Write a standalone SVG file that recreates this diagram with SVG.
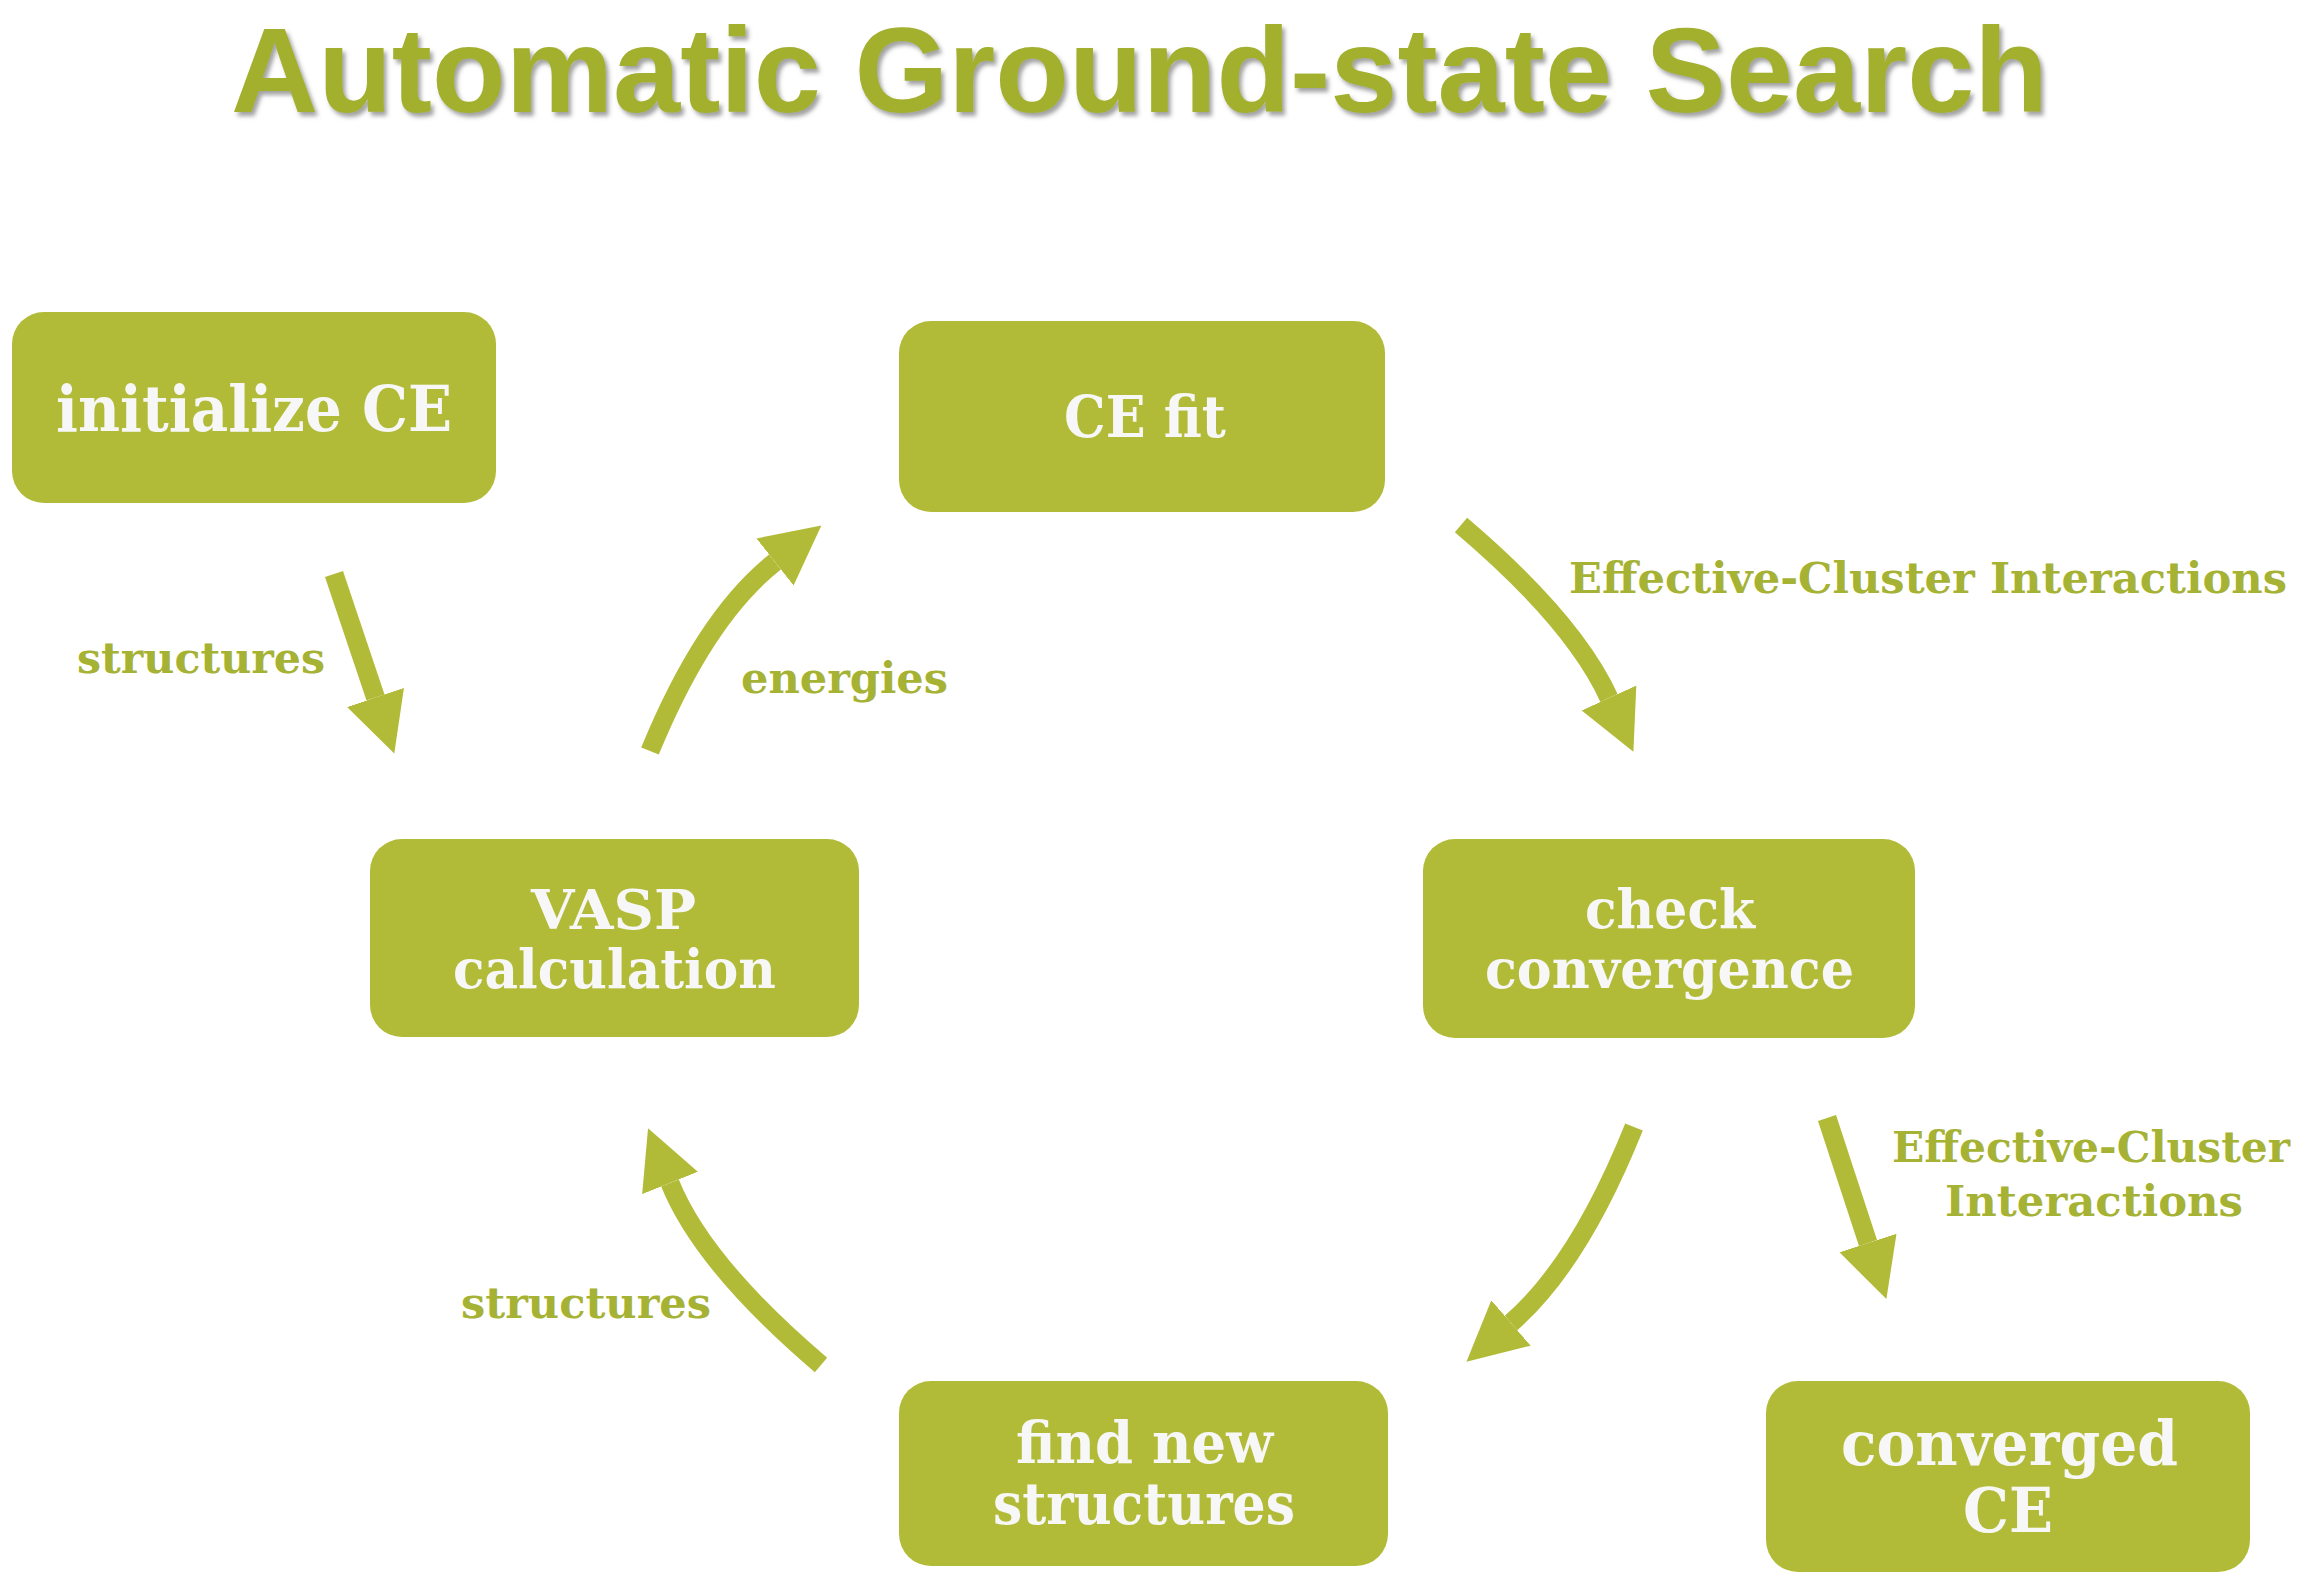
<svg xmlns="http://www.w3.org/2000/svg" width="2310" height="1596" viewBox="0 0 2310 1596">
  <defs>
    <style>
      .box { fill: #b2bb38; }
      .bt { font-family: "DejaVu Serif", "Liberation Serif", serif; font-weight: bold; fill: #f7f7f7; }
      .lbl { font-family: "DejaVu Serif", "Liberation Serif", serif; font-weight: bold; fill: #a6b234; font-size: 43px; }
      .shaft { fill: none; stroke: #b2bb38; stroke-width: 19; stroke-linecap: butt; }
      .title { font-family: "Liberation Sans", Arial, sans-serif; font-weight: bold; font-size: 120px; fill: #a3b02f; }
    </style>
    <filter id="shadow" x="-5%" y="-20%" width="110%" height="150%">
      <feDropShadow dx="3" dy="4" stdDeviation="2" flood-color="#555" flood-opacity="0.55"/>
    </filter>
    <marker id="head" markerUnits="userSpaceOnUse" viewBox="0 -31 62 62" refX="0" refY="0" markerWidth="62" markerHeight="62" orient="auto">
      <path d="M0,-30 L59,0 L0,30 Z" fill="#b2bb38"/>
    </marker>
  </defs>
  <rect width="2310" height="1596" fill="#ffffff"/>

  <text class="title" x="231" y="112" textLength="1817" lengthAdjust="spacingAndGlyphs" filter="url(#shadow)">Automatic Ground-state Search</text>

  <g id="connectors">
    <path class="shaft" d="M334,574 L375.5,697.5" marker-end="url(#head)"/>
    <path class="shaft" d="M650,751 C687,661 728,599 775,562" marker-end="url(#head)"/>
    <path class="shaft" d="M1461,525 Q1574,621 1609,698" marker-end="url(#head)"/>
    <path class="shaft" d="M1634,1127 Q1579,1264 1511,1323" marker-end="url(#head)"/>
    <path class="shaft" d="M821,1365 Q702.5,1264 670,1183" marker-end="url(#head)"/>
    <path class="shaft" d="M1827,1118 L1868,1243" marker-end="url(#head)"/>
    <text class="lbl" x="77" y="673" textLength="248" lengthAdjust="spacingAndGlyphs">structures</text>
    <text class="lbl" x="741" y="693" textLength="207" lengthAdjust="spacingAndGlyphs">energies</text>
    <text class="lbl" x="1569" y="593" textLength="718" lengthAdjust="spacingAndGlyphs">Effective-Cluster Interactions</text>
    <text class="lbl" x="1892" y="1162" textLength="398" lengthAdjust="spacingAndGlyphs">Effective-Cluster</text>
    <text class="lbl" x="1945" y="1216" textLength="298" lengthAdjust="spacingAndGlyphs">Interactions</text>
    <text class="lbl" x="461" y="1318" textLength="250" lengthAdjust="spacingAndGlyphs">structures</text>
  </g>

  <g id="node-init">
    <rect class="box" x="12" y="312" width="484" height="191" rx="32"/>
    <text class="bt" x="56" y="431" font-size="63" textLength="396" lengthAdjust="spacingAndGlyphs">initialize CE</text>
  </g>
  <g id="node-cefit">
    <rect class="box" x="899" y="321" width="486" height="191" rx="32"/>
    <text class="bt" x="1064" y="437" font-size="57" textLength="162" lengthAdjust="spacingAndGlyphs">CE fit</text>
  </g>
  <g id="node-vasp">
    <rect class="box" x="370" y="839" width="489" height="198" rx="32"/>
    <text class="bt" x="531" y="929" font-size="55" textLength="165" lengthAdjust="spacingAndGlyphs">VASP</text>
    <text class="bt" x="453" y="988" font-size="55" textLength="323" lengthAdjust="spacingAndGlyphs">calculation</text>
  </g>
  <g id="node-check">
    <rect class="box" x="1423" y="839" width="492" height="199" rx="32"/>
    <text class="bt" x="1585" y="928" font-size="55" textLength="170" lengthAdjust="spacingAndGlyphs">check</text>
    <text class="bt" x="1485" y="988" font-size="55" textLength="369" lengthAdjust="spacingAndGlyphs">convergence</text>
  </g>
  <g id="node-find">
    <rect class="box" x="899" y="1381" width="489" height="185" rx="32"/>
    <text class="bt" x="1016" y="1463" font-size="57" textLength="257" lengthAdjust="spacingAndGlyphs">find new</text>
    <text class="bt" x="993" y="1524" font-size="57" textLength="302" lengthAdjust="spacingAndGlyphs">structures</text>
  </g>
  <g id="node-converged">
    <rect class="box" x="1766" y="1381" width="484" height="191" rx="32"/>
    <text class="bt" x="1841" y="1465" font-size="62" textLength="337" lengthAdjust="spacingAndGlyphs">converged</text>
    <text class="bt" x="1963" y="1532" font-size="62" textLength="90" lengthAdjust="spacingAndGlyphs">CE</text>
  </g>
</svg>
